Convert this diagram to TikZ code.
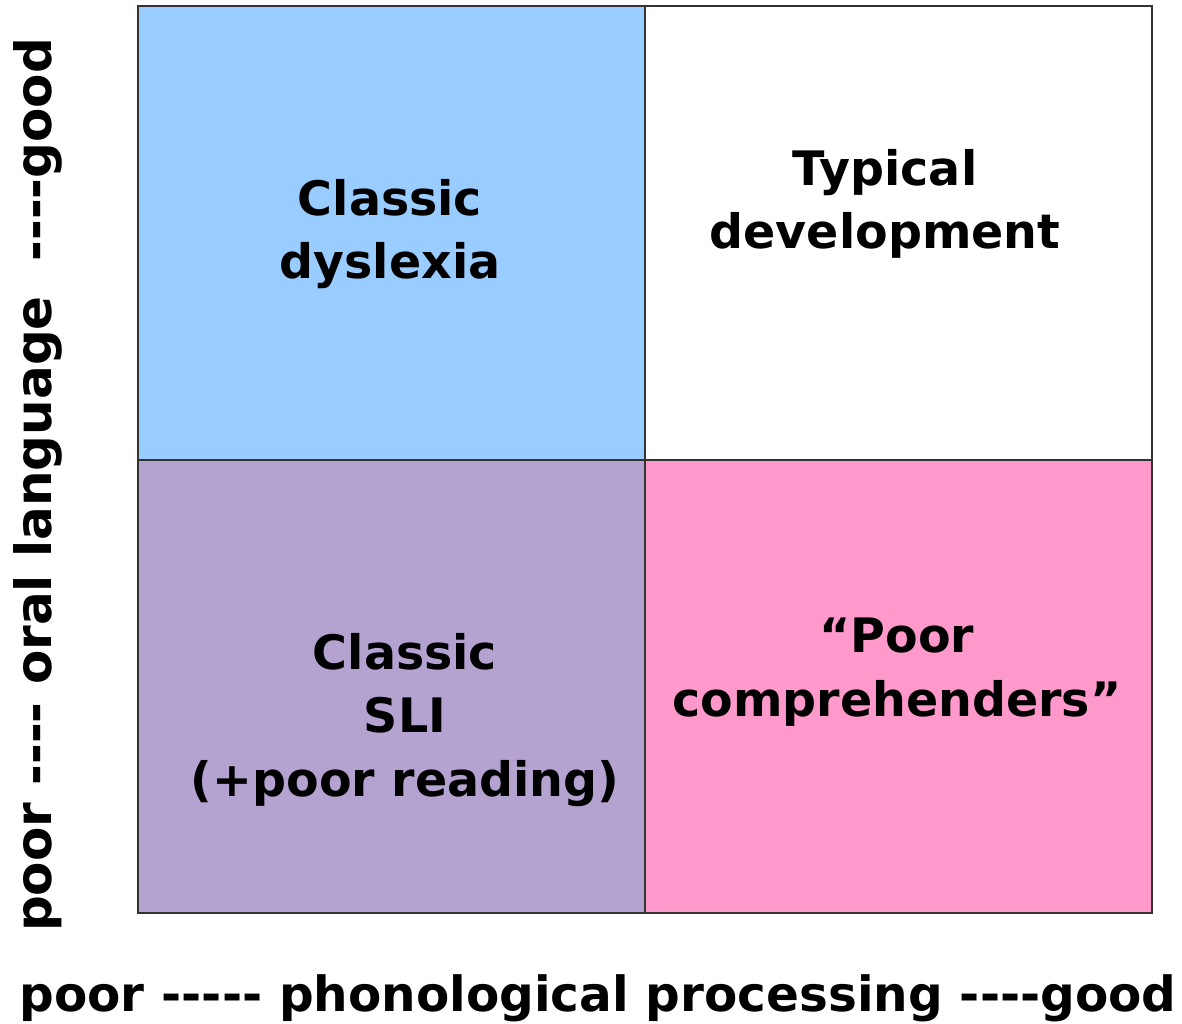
\documentclass[tikz,border=0pt]{standalone}
\usepackage{fontspec}
\setmainfont{DejaVu Sans}[Ligatures=TeXOff]
\definecolor{qblue}{HTML}{99CCFF}
\definecolor{qlav}{HTML}{B4A2D0}
\definecolor{qpink}{HTML}{FF99CC}
\definecolor{qedge}{HTML}{333333}
\begin{document}
\begin{tikzpicture}[x=1pt,y=1pt,
  cell/.style={draw=qedge,line width=1.6pt},
  lbl/.style={font=\fontsize{47.5}{63.5}\selectfont\bfseries,align=center,text=black,inner sep=0pt},
  axis/.style={font=\fontsize{48.5}{56}\selectfont\bfseries,inner sep=0pt},
  vaxis/.style={font=\fontsize{50}{56}\selectfont\bfseries,inner sep=0pt,rotate=90}]
\useasboundingbox (0,0) rectangle (1182,1024);
\fill[white] (0,0) rectangle (1182,1024);
% y = 1024 - ypix
\filldraw[cell,fill=qblue] (138,1018) rectangle (645,564);
\filldraw[cell,fill=white] (645,1018) rectangle (1152,564);
\filldraw[cell,fill=qlav] (138,564) rectangle (645,111);
\filldraw[cell,fill=qpink] (645,564) rectangle (1152,111);
\node[lbl] (dys) at (390,790) {Classic\\dyslexia};
\node[lbl] (typ) at (885,820) {Typical\\development};
\node[lbl] (sli) at (405,304) {Classic\\SLI\\(+poor reading)};
\node[lbl] (pc) at (897,352) {“Poor\\comprehenders”};
\node[vaxis] (ylab) at (38,539) {poor ---- oral language \ ----good};
\node[axis] (xlab) at (598,26) {poor ----- phonological processing ----good};
\end{tikzpicture}
\end{document}
